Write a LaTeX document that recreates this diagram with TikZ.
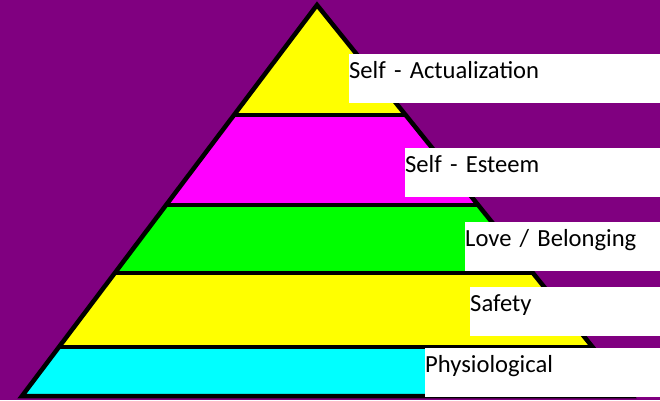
\documentclass[tikz,border=0pt]{standalone}
\usepackage{fontspec}
\setmainfont{Carlito}
\usetikzlibrary{calc}
\usepackage{xcolor}
\definecolor{bgpurple}{HTML}{800080}
\definecolor{tieryellow}{HTML}{FFFF00}
\definecolor{tiermagenta}{HTML}{FF00FF}
\definecolor{tiergreen}{HTML}{00FF00}
\definecolor{tiercyan}{HTML}{00FFFF}
\tikzset{
  tierline/.style={draw=black, line width=4.5pt, line join=miter},
  needlabel/.style={rectangle, fill=white, anchor=north west, align=left,
                    inner xsep=0pt, inner ysep=0pt, text height=24pt, text depth=25pt,
                    font=\fontsize{24.6}{30}\selectfont, text=black},
}

\begin{document}
\begin{tikzpicture}[x=1pt, y=-1pt]
  \useasboundingbox (0,0) rectangle (660,400);
  \fill[bgpurple] (0,0) rectangle (660,400);

  \coordinate (apex) at (317,5);
  \coordinate (bl) at (22,396);
  \coordinate (br) at (632,396);

  % tiers
  \begin{scope}
    \clip (apex) -- (bl) -- (br) -- cycle;
    \fill[tieryellow]  (0,0)   rectangle (660,115);
    \fill[tiermagenta] (0,115) rectangle (660,205);
    \fill[tiergreen]   (0,205) rectangle (660,273);
    \fill[tieryellow]  (0,273) rectangle (660,347);
    \fill[tiercyan]    (0,347) rectangle (660,400);
  \end{scope}

  \draw[tierline] ($(apex)!0.2813!(bl)$) -- ($(apex)!0.2813!(br)$);
  \draw[tierline] ($(apex)!0.5115!(bl)$) -- ($(apex)!0.5115!(br)$);
  \draw[tierline] ($(apex)!0.6854!(bl)$) -- ($(apex)!0.6854!(br)$);
  \draw[tierline] ($(apex)!0.8747!(bl)$) -- ($(apex)!0.8747!(br)$);
  \draw[tierline] (apex) -- (bl) -- (br) -- cycle;

  % labels
  \node[needlabel, text width=311pt] (selfact) at (349,54)  {Self - Actualization};
  \node[needlabel, text width=255pt] (esteem)  at (405,148) {Self - Esteem};
  \node[needlabel, text width=195pt] (love)    at (465,222) {Love / Belonging};
  \node[needlabel, text width=190pt] (safety)  at (470,287) {Safety};
  \node[needlabel, text width=235pt] (physio)  at (425,348) {Physiological};
\end{tikzpicture}
\end{document}
